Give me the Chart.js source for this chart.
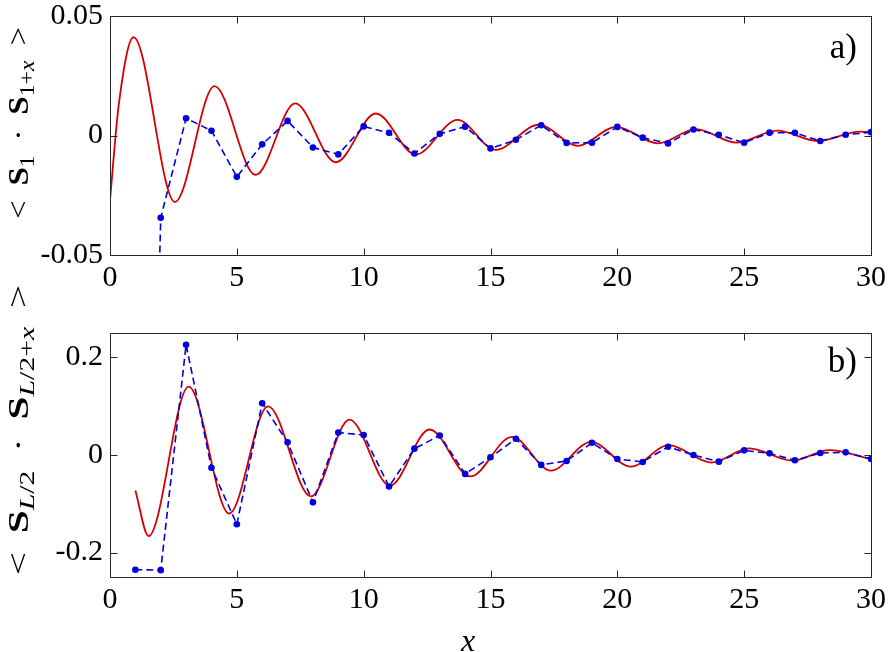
<!DOCTYPE html>
<html>
<head>
<meta charset="utf-8">
<script src="https://cdn.jsdelivr.net/npm/chart.js@4.4.1/dist/chart.umd.min.js"></script>
<style>
  body { margin: 0; background: #fff; }
  #wrap { position: relative; width: 891px; height: 652px; overflow: hidden; background: #fff; }
  canvas { position: absolute; left: 0; }
  .ylab {
    position: absolute;
    font-family: 'Liberation Serif', serif;
    font-size: 30px;
    line-height: 1;
    white-space: nowrap;
    color: #000;
  }
  .ylab b { font-weight: bold; }
  .ylab sub { font-size: 0.72em; vertical-align: -0.28em; line-height: 0; }
  .ylab .gap { display: inline-block; width: 0.45em; }
</style>
</head>
<body>
<div id="wrap">
  <canvas id="topChart" width="891" height="300" style="top:0"></canvas>
  <canvas id="botChart" width="891" height="352" style="top:300px"></canvas>
  <div class="ylab" style="left:18px; top:123px; transform: translate(-50%, -50%) rotate(-90deg) scaleX(1.1)">&lt;<span class="gap"></span><b>S</b><sub>1</sub><span class="gap"></span>·<span class="gap"></span><b>S</b><sub>1+<i>x</i></sub><span class="gap"></span>&gt;</div>
  <div class="ylab" style="left:18px; top:430px; transform: translate(-50%, -50%) rotate(-90deg) scaleX(1.38)">&lt;<span class="gap"></span><b>S</b><sub><i>L</i>/2</sub><span class="gap"></span>·<span class="gap"></span><b>S</b><sub><i>L</i>/2+<i>x</i></sub><span class="gap"></span>&gt;</div>
</div>
<script>
// axis ticks
const xTicks = [0, 5, 10, 15, 20, 25, 30];
const topYTicks = [-0.05, 0, 0.05];
const topYTickLabels = ['-0.05', '0', '0.05'];
const botYTicks = [-0.2, 0, 0.2];
const botYTickLabels = ['-0.2', '0', '0.2'];

// panel a) : blue dots at integer distances
const topDotsX = [1, 2, 3, 4, 5, 6, 7, 8, 9, 10, 11, 12, 13, 14, 15, 16, 17, 18, 19, 20, 21, 22, 23, 24, 25, 26, 27, 28, 29, 30];
const topDotsY = [-0.44, -0.0344, 0.0072, 0.0020, -0.0173, -0.0037, 0.0061, -0.0050, -0.0079, 0.0038,
                  0.0011, -0.0075, 0.0007, 0.0037, -0.0054, -0.0018, 0.0043, -0.0031, -0.0030, 0.0036,
                  -0.0009, -0.0033, 0.0025, 0.0003, -0.0030, 0.0012, 0.0011, -0.0023, 0.0003, 0.0014];

// panel a) : red fitted curve (read at turning points)
const topCurveX = [0, 0.35, 0.93, 2.56, 4.12, 5.74, 7.30, 8.90, 10.48, 12.05, 13.70, 15.20, 16.90, 18.45, 19.95, 21.60, 23.10, 24.70, 26.30, 27.90, 29.55, 30];
const topCurveY = [-0.027, 0.0133, 0.0411, -0.0278, 0.0207, -0.0165, 0.0134, -0.0112, 0.0092, -0.0080, 0.0065,
                   -0.0060, 0.0045, -0.0043, 0.0036, -0.0033, 0.0027, -0.0030, 0.0020, -0.0023, 0.0016, 0.0015];

// panel b) : blue dots
const botDotsX = [1, 2, 3, 4, 5, 6, 7, 8, 9, 10, 11, 12, 13, 14, 15, 16, 17, 18, 19, 20, 21, 22, 23, 24, 25, 26, 27, 28, 29, 30];
const botDotsY = [-0.235, -0.236, 0.226, -0.026, -0.142, 0.106, 0.026, -0.097, 0.046, 0.041,
                  -0.0645, 0.013, 0.040, -0.0387, -0.0047, 0.0332, -0.0203, -0.0122, 0.025, -0.0081,
                  -0.0142, 0.0169, 0.0, -0.0136, 0.0095, 0.0034, -0.0108, 0.004, 0.0054, -0.0081];

// panel b) : red fitted curve
const botCurveX = [1, 1.52, 3.10, 4.70, 6.23, 7.92, 9.44, 11.03, 12.60, 14.20, 15.85, 17.38, 18.97, 20.53, 22.03, 23.70, 25.20, 26.90, 28.35, 30];
const botCurveY = [-0.0726, -0.166, 0.140, -0.120, 0.0997, -0.0848, 0.0726, -0.063, 0.0523, -0.044,
                   0.0373, -0.032, 0.027, -0.0238, 0.0203, -0.0156, 0.0136, -0.0116, 0.010, -0.0081];

const serif = 'Liberation Serif';
const axisColor = '#262626';
Chart.defaults.font.family = serif;
Chart.defaults.color = '#000';

// MATLAB style box with inward ticks, plus panel tag / x title
const matlabBox = {
    id: 'matlabBox',
    afterDraw(chart, args, opts) {
        const { ctx, chartArea: a, scales } = chart;
        const L = Math.round(a.left) + 0.5, R = Math.round(a.right) + 0.5;
        const T = Math.round(a.top) + 0.5, B = Math.round(a.bottom) + 0.5;
        const tl = 7;
        ctx.save();
        ctx.strokeStyle = axisColor;
        ctx.lineWidth = 1;
        ctx.beginPath();
        ctx.rect(L, T, R - L, B - T);
        scales.x.ticks.forEach(t => {
            const px = Math.round(scales.x.getPixelForValue(t.value)) + 0.5;
            ctx.moveTo(px, B); ctx.lineTo(px, B - tl);
            ctx.moveTo(px, T); ctx.lineTo(px, T + tl);
        });
        scales.y.ticks.forEach(t => {
            const py = Math.round(scales.y.getPixelForValue(t.value)) + 0.5;
            ctx.moveTo(L, py); ctx.lineTo(L + tl, py);
            ctx.moveTo(R, py); ctx.lineTo(R - tl, py);
        });
        ctx.stroke();

        ctx.fillStyle = '#000';
        if (opts.tag) {
            ctx.font = '35px "Liberation Serif"';
            ctx.textAlign = 'right';
            ctx.textBaseline = 'alphabetic';
            ctx.fillText(opts.tag, a.right - 14, a.top + opts.tagDy);
        }
        if (opts.xTitle) {
            ctx.font = 'italic 32px "Liberation Serif"';
            ctx.textAlign = 'center';
            ctx.textBaseline = 'alphabetic';
            ctx.fillText(opts.xTitle, 468, chart.height - 1);
        }
        ctx.restore();
    }
};

function makeChart(id, dotsX, dotsY, curveX, curveY, yMin, yMax, yTicks, yLabels, pad, xAxisH, boxOpts) {
    const ctx = document.getElementById(id).getContext('2d');
    return new Chart(ctx, {
        type: 'line',
        data: {
            datasets: [{
                data: dotsX.map((x, i) => ({ x: x, y: dotsY[i] })),
                borderColor: '#0000dd',
                backgroundColor: '#0000dd',
                borderWidth: 1.6,
                borderDash: [7, 4],
                pointRadius: 3.3,
                pointBorderWidth: 0,
                tension: 0
            }, {
                data: curveX.map((x, i) => ({ x: x, y: curveY[i] })),
                borderColor: '#d40000',
                borderWidth: 1.8,
                pointRadius: 0,
                cubicInterpolationMode: 'monotone'
            }]
        },
        options: {
            responsive: false,
            animation: false,
            layout: { padding: pad },
            plugins: {
                legend: { display: false },
                tooltip: { enabled: false },
                matlabBox: boxOpts
            },
            scales: {
                x: {
                    type: 'linear',
                    min: 0,
                    max: 30,
                    afterBuildTicks: s => { s.ticks = xTicks.map(v => ({ value: v })); },
                    afterFit: s => { s.height = xAxisH; },
                    grid: { display: false, drawTicks: false },
                    border: { display: false },
                    ticks: {
                        color: '#000',
                        padding: 5,
                        maxRotation: 0,
                        font: { family: serif, size: 30 },
                        callback: v => String(v)
                    }
                },
                y: {
                    type: 'linear',
                    min: yMin,
                    max: yMax,
                    afterBuildTicks: s => { s.ticks = yTicks.map(v => ({ value: v })); },
                    afterFit: s => { s.width = 110; },
                    grid: { display: false, drawTicks: false },
                    border: { display: false },
                    ticks: {
                        color: '#000',
                        padding: 7,
                        font: { family: serif, size: 30, lineHeight: 0.6 },
                        callback: v => yLabels[yTicks.indexOf(v)]
                    }
                }
            }
        },
        plugins: [matlabBox]
    });
}

makeChart('topChart', topDotsX, topDotsY, topCurveX, topCurveY, -0.05, 0.05, topYTicks, topYTickLabels,
    { top: 11, right: 14, bottom: 0, left: 0 }, 45, { tag: 'a)', tagDy: 42 });
makeChart('botChart', botDotsX, botDotsY, botCurveX, botCurveY, -0.25, 0.25, botYTicks, botYTickLabels,
    { top: 33, right: 14, bottom: 0, left: 0 }, 75, { tag: 'b)', tagDy: 39, xTitle: 'x' });
</script>
</body>
</html>
